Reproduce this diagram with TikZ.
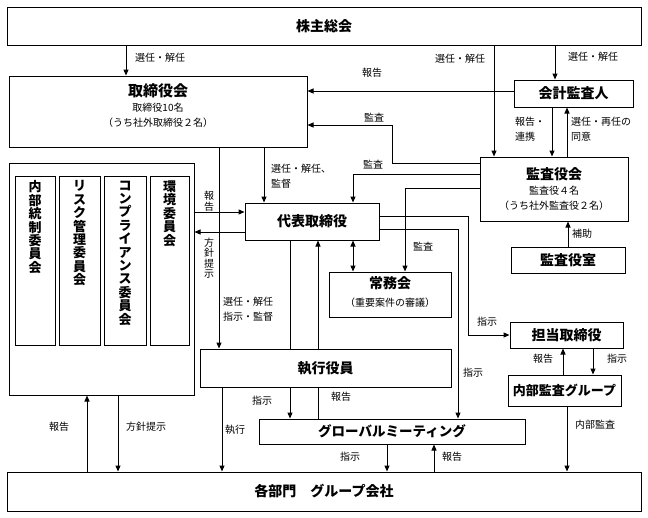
\documentclass[tikz,border=0pt]{standalone}
\usepackage{fontspec}
\setmainfont{Noto Sans CJK JP}
\usepackage{tikz}
\usetikzlibrary{positioning,arrows.meta}

\begin{document}
\begin{tikzpicture}[
            x=1pt, y=-1pt,
            box/.style={rectangle, draw, line width=1pt, inner sep=0pt, align=center,
                font=\bfseries\fontsize{14}{17}\selectfont},
            tate/.style={inner sep=0pt, align=center, font=\bfseries\fontsize{13}{13.4}\selectfont},
            lbl/.style={inner sep=0pt, align=left, font=\fontsize{10}{15}\selectfont},
            lbltate/.style={inner sep=0pt, align=center, font=\fontsize{10}{10.5}\selectfont},
            arr/.style={-{Triangle[length=6pt,width=5pt]}, line width=1pt},
            dblarr/.style={{Triangle[length=6pt,width=5pt]}-{Triangle[length=6pt,width=5pt]}, line width=1pt},
            ln/.style={line width=1pt}
        ]
            \useasboundingbox (0,0) rectangle (648,517);
            \newcommand{\subtxt}[1]{{\mdseries\fontsize{10}{14}\selectfont #1}}
            \begin{scope}[
                every node/.style={box}
            ]
                % Boxes
                \node[minimum width=634pt, minimum height=38pt] (kabunushi) at (324,26) {株主総会};
                \node[minimum width=298pt, minimum height=71pt] (torishimari) at (158,111.5)
                    {\fontsize{15}{16}\selectfont 取締役会\\[-2pt]\subtxt{取締役10名}\\[-2pt]\subtxt{（うち社外取締役２名）}\rule[-12pt]{0pt}{1pt}};
                \node[minimum width=119pt, minimum height=27pt] (kaikei) at (573.5,93.5) {会計監査人};
                \node[minimum width=148pt, minimum height=64pt] (kansa) at (554,189)
                    {監査役会\\[-2pt]\subtxt{監査役４名}\\[-2pt]\subtxt{（うち社外監査役２名）}};
                \node[minimum width=114pt, minimum height=26pt] (kansashitsu) at (568,260) {監査役室};
                \node[minimum width=185pt, minimum height=232pt] (iinkai) at (101.5,279) {};
                \node[minimum width=40pt, minimum height=169pt] (naibutosei) at (35,260.5) {};
                \node[minimum width=41pt, minimum height=169pt] (risk) at (79.5,260.5) {};
                \node[minimum width=42pt, minimum height=169pt] (compliance) at (125,260.5) {};
                \node[minimum width=39pt, minimum height=169pt] (kankyo) at (169.5,260.5) {};
                \node[minimum width=134pt, minimum height=37pt] (daihyo) at (312,221.5) {代表取締役};
                \node[minimum width=122pt, minimum height=45pt] (jomu) at (390,294.5)
                    {常務会\\[1pt]\subtxt{（重要案件の審議）}\rule[-5pt]{0pt}{1pt}};
                \node[minimum width=113pt, minimum height=26pt] (tanto) at (566.5,335) {担当取締役};
                \node[minimum width=113pt, minimum height=31pt, font=\bfseries\fontsize{13}{15}\selectfont] (naibukansa) at (564.5,390.5) {内部監査グループ};
                \node[minimum width=251pt, minimum height=38pt] (shikko) at (325.5,368) {執行役員};
                \node[minimum width=266pt, minimum height=25pt, font=\bfseries\fontsize{13.5}{15}\selectfont] (global) at (392,431.5) {グローバルミーティング};
                \node[minimum width=634pt, minimum height=39pt] (kakubu) at (324,491.5) {各部門　グループ会社};
            \end{scope}
            % Committee names, written top to bottom
            \node[tate, anchor=north] (tNaibutosei) at ([yshift=-5pt]naibutosei.north) {内\\部\\統\\制\\委\\員\\会};
            \node[tate, anchor=north] (tRisk) at ([yshift=-5pt]risk.north) {リ\\ス\\ク\\管\\理\\委\\員\\会};
            \node[tate, anchor=north] (tCompliance) at ([yshift=-5pt]compliance.north) {コ\\ン\\プ\\ラ\\イ\\ア\\ン\\ス\\委\\員\\会};
            \node[tate, anchor=north] (tKankyo) at ([yshift=-5pt]kankyo.north) {環\\境\\委\\員\\会};
            % Edges
            \draw[arr] (126,0 |- kabunushi.south) -- (126,0 |- torishimari.north); % 選任・解任
            \draw[arr] (494,0 |- kabunushi.south) -- (494,0 |- kansa.north); % 選任・解任
            \draw[arr] (555,0 |- kabunushi.south) -- (555,0 |- kaikei.north); % 選任・解任
            \draw[arr] (kaikei.west |- 0,91) -- (torishimari.east |- 0,91); % 報告
            \draw[arr] (kansa.west |- 0,163) -| (392,125) -- (torishimari.east |- 0,125); % 監査
            \draw[arr] (kansa.west |- 0,174) -| (353,0 |- daihyo.north); % 監査
            \draw[arr] (kansa.west |- 0,188) -| (405,0 |- jomu.north); % 監査
            \draw[arr] (552,0 |- kaikei.south) -- (552,0 |- kansa.north); % 報告・連携
            \draw[arr] (567,0 |- kansa.north) -- (567,0 |- kaikei.south); % 選任・再任の同意
            \draw[arr] (568,0 |- kansashitsu.north) -- (568,0 |- kansa.south); % 補助
            \draw[arr] (264,0 |- torishimari.south) -- (264,0 |- daihyo.north); % 選任・解任、監督
            \draw[arr] (219,0 |- torishimari.south) -- (219,0 |- shikko.north); % 選任・解任 指示・監督
            \draw[arr] (iinkai.east |- 0,212) -- (daihyo.west |- 0,212); % 報告
            \draw[arr] (daihyo.west |- 0,232) -- (iinkai.east |- 0,232); % 方針提示
            \draw[dblarr] (353,0 |- daihyo.south) -- (353,0 |- jomu.north);
            \draw[ln] (290,0 |- daihyo.south) -- (290,0 |- shikko.north);
            \draw[arr] (318,0 |- shikko.north) -- (318,0 |- daihyo.south);
            \draw[arr] (daihyo.east |- 0,216) -| (468,0 |- tanto.west) -- (tanto.west); % 指示
            \draw[arr] (daihyo.east |- 0,229) -| (458,0 |- global.north); % 指示
            \draw[arr] (290,0 |- shikko.south) -- (290,0 |- global.north); % 指示
            \draw[ln] (318,0 |- global.north) -- (318,0 |- shikko.south); % 報告
            \draw[arr] (222,0 |- shikko.south) -- (222,0 |- kakubu.north); % 執行
            \draw[arr] (87,0 |- kakubu.north) -- (87,0 |- iinkai.south); % 報告
            \draw[arr] (118,0 |- iinkai.south) -- (118,0 |- kakubu.north); % 方針提示
            \draw[arr] (387,0 |- global.south) -- (387,0 |- kakubu.north); % 指示
            \draw[arr] (434,0 |- kakubu.north) -- (434,0 |- global.south); % 報告
            \draw[arr] (563,0 |- naibukansa.north) -- (563,0 |- tanto.south); % 報告
            \draw[arr] (593,0 |- tanto.south) -- (593,0 |- naibukansa.north); % 指示
            \draw[arr] (567,0 |- naibukansa.south) -- (567,0 |- kakubu.north); % 内部監査
            % Edge labels
            \node[lbl] (l1) at (160,58) {選任・解任};
            \node[lbl] (l2) at (460,59) {選任・解任};
            \node[lbl] (l3) at (593,57) {選任・解任};
            \node[lbl] (l4) at (372,73) {報告};
            \node[lbl] (l5) at (374,118) {監査};
            \node[lbl] (l6) at (373,165) {監査};
            \node[lbl, anchor=west] (l7) at (515,129) {報告・\\連携};
            \node[lbl, anchor=west] (l8) at (571,129) {選任・再任の\\同意};
            \node[lbl] (l9) at (582,234) {補助};
            \node[lbl, anchor=west] (l10) at (271,176) {選任・解任、\\監督};
            \node[lbl, anchor=west] (l11) at (223,309) {選任・解任\\指示・監督};
            \node[lbltate] (l12) at (209,201) {報\\告};
            \node[lbltate] (l13) at (209,258) {方\\針\\提\\示};
            \node[lbl] (l14) at (423,247) {監査};
            \node[lbl] (l15) at (487,322) {指示};
            \node[lbl] (l16) at (473,373) {指示};
            \node[lbl] (l17) at (262,401) {指示};
            \node[lbl] (l18) at (341,397) {報告};
            \node[lbl] (l19) at (235,430) {執行};
            \node[lbl] (l20) at (59,427) {報告};
            \node[lbl] (l21) at (146,427) {方針提示};
            \node[lbl] (l22) at (350,457) {指示};
            \node[lbl] (l23) at (452,457) {報告};
            \node[lbl] (l24) at (543,359) {報告};
            \node[lbl] (l25) at (617,359) {指示};
            \node[lbl] (l26) at (595,425) {内部監査};
        \end{tikzpicture}
\end{document}
